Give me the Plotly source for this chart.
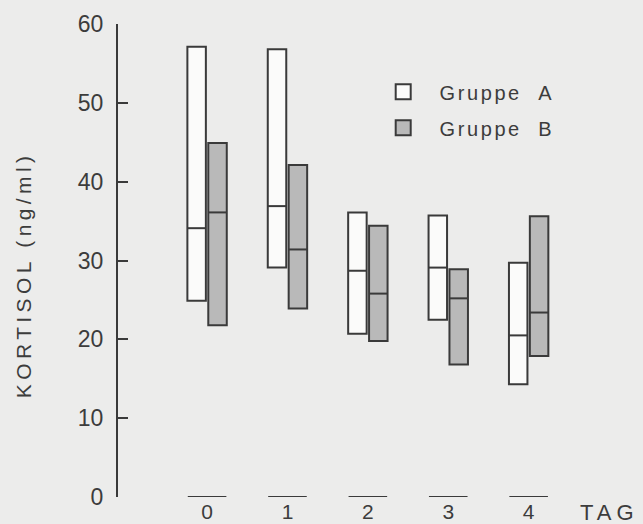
import plotly.graph_objects as go

days = [0, 1, 2, 3, 4]
day_labels = ["0", "1", "2", "3", "4"]

a_min = [24.9, 29.1, 20.7, 22.5, 14.3]
a_med = [34.1, 36.9, 28.7, 29.1, 20.5]
a_max = [57.1, 56.8, 36.1, 35.7, 29.7]

b_min = [21.8, 23.9, 19.8, 16.8, 17.9]
b_med = [36.1, 31.4, 25.8, 25.2, 23.4]
b_max = [44.9, 42.1, 34.4, 28.9, 35.6]

y_ticks = [0, 10, 20, 30, 40, 50, 60]

OFF = 0.13
W = 0.23
LINE = "#3a3a3a"
TXT = "#3c3c3c"
BG = "#ececeb"
FILL_A = "#fbfbfa"
FILL_B = "#b9b9b9"
FONT = "Liberation Sans, Arial, sans-serif"

fig = go.Figure()

def add_group(name, mins, meds, maxs, offset, fill):
    xs = [d + offset for d in days]
    fig.add_trace(go.Bar(
        x=xs, base=mins, y=[mx - mn for mn, mx in zip(mins, maxs)],
        width=W, name=name, showlegend=False,
        marker=dict(color=fill, line=dict(color=LINE, width=2)),
        hoverinfo="skip",
    ))
    lx, ly = [], []
    for x, m in zip(xs, meds):
        lx += [x - W / 2, x + W / 2, None]
        ly += [m, m, None]
    fig.add_trace(go.Scatter(x=lx, y=ly, mode="lines",
                             line=dict(color=LINE, width=2),
                             showlegend=False, hoverinfo="skip"))
    # legend entry (square swatch)
    fig.add_trace(go.Scatter(
        x=[None], y=[None], mode="markers", name=name, legendgroup=name,
        marker=dict(symbol="square", size=15, color=fill,
                    line=dict(color=LINE, width=2)),
        hoverinfo="skip",
    ))

lab_a = "<span style='letter-spacing:2.6px'>\u00a0\u00a0Gruppe\u00a0\u00a0A</span>"
lab_b = "<span style='letter-spacing:2.6px'>\u00a0\u00a0Gruppe\u00a0\u00a0B</span>"
add_group(lab_a, a_min, a_med, a_max, -OFF, FILL_A)
add_group(lab_b, b_min, b_med, b_max, OFF, FILL_B)

# short baseline dashes under each day
dx, dy = [], []
for d in days:
    dx += [d - 0.24, d + 0.24, None]
    dy += [0, 0, None]
fig.add_trace(go.Scatter(x=dx, y=dy, mode="lines", line=dict(color=LINE, width=2),
                         showlegend=False, hoverinfo="skip", cliponaxis=False))

fig.add_annotation(
    x=1.0, xref="paper", y=0, yref="y", xanchor="left", yanchor="middle",
    xshift=18, yshift=-15,
    text="<span style='letter-spacing:5px'>TAG</span>", showarrow=False,
    font=dict(size=22, color=TXT, family=FONT),
)

fig.add_annotation(
    x=-0.215, xref="paper", y=0.471, yref="paper", xanchor="center", yanchor="middle",
    textangle=-90, showarrow=False,
    text="<span style='letter-spacing:4.4px'>KORTISOL (ng/ml)</span>",
    font=dict(size=21, color=TXT, family=FONT),
)

fig.update_layout(
    width=643, height=524,
    margin=dict(l=118, r=83, t=24, b=27),
    paper_bgcolor=BG, plot_bgcolor=BG,
    font=dict(family=FONT, color=TXT),
    barmode="overlay",
    showlegend=True,
    legend=dict(x=0.6, y=0.898, xanchor="left", yanchor="top",
                bgcolor="rgba(0,0,0,0)", font=dict(size=20, color=TXT),
                tracegroupgap=7, itemsizing="trace"),
    xaxis=dict(range=[-1.108, 4.39], tickvals=days, ticktext=day_labels,
               showgrid=False, zeroline=False, showline=False, ticks="",
               tickfont=dict(size=21, color=TXT), ticklabelstandoff=0,
               automargin=False),
    yaxis=dict(range=[0, 60], tickvals=y_ticks, showgrid=False, zeroline=False,
               showline=True, linecolor=LINE, linewidth=2,
               ticks="inside", ticklen=10, tickwidth=2, tickcolor=LINE,
               tickfont=dict(size=23, color=TXT), ticklabelstandoff=8,
               automargin=False),
)

fig.write_html("out.html", config={"displayModeBar": False},
               post_script="document.body.style.margin='0';")
